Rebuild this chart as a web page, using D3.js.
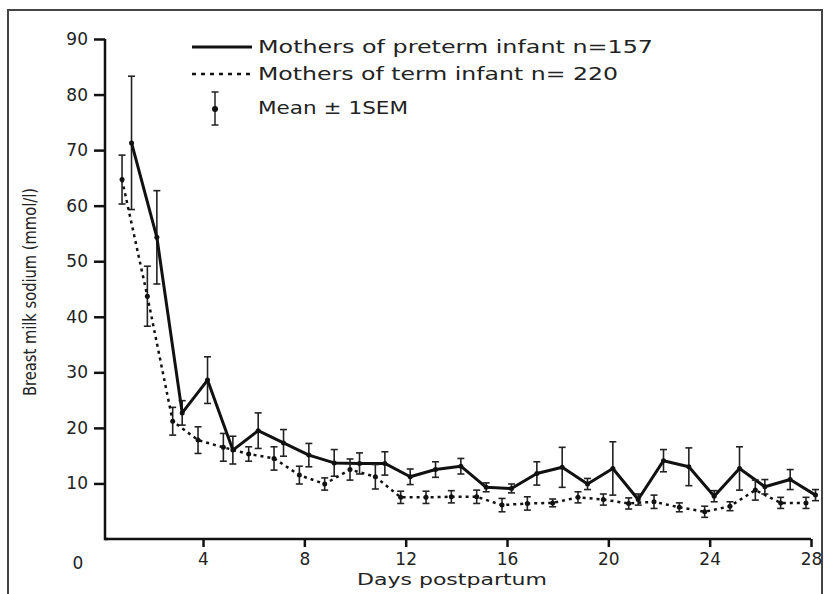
<!DOCTYPE html>
<html>
<head>
<meta charset="utf-8">
<script src="https://cdn.jsdelivr.net/npm/d3@7"></script>
<style>
  body { margin: 0; background: #fff; }
  text { font-family: "DejaVu Sans", sans-serif; fill: #222; }
</style>
</head>
<body>
<div id="chart-area"></div>
<script>
// data (sodium, mmol/l, mean and 1 SEM)
const days = [1,2,3,4,5,6,7,8,9,10,11,12,13,14,15,16,17,18,19,20,21,22,23,24,25,26,27,28];
const preterm = [71.3,54.3,22.7,28.6,16.0,19.5,17.3,15.1,13.7,13.6,13.6,11.2,12.5,13.1,9.3,9.1,11.8,12.9,9.9,12.7,7.1,14.1,13.0,7.7,12.7,9.4,10.7,7.9];
const pretermSem = [12,8.4,2.2,4.2,2.5,3.2,2.4,2.1,2.4,1.9,2.1,1.4,1.4,1.4,0.8,0.8,2.1,3.6,1.0,4.8,1.0,2.0,3.4,1.0,3.9,1.3,1.8,1.0];
const term = [64.7,43.7,21.2,17.8,16.5,15.3,14.5,11.5,9.9,12.5,11.2,7.5,7.5,7.6,7.6,6.1,6.4,6.5,7.5,7.1,6.4,6.7,5.7,4.9,5.9,8.8,6.5,6.5];
const termSem = [4.4,5.4,2.5,2.4,2.5,1.3,2.1,1.6,1.1,1.9,2.2,1.1,1.1,1.1,1.2,1.2,1.2,0.7,1.0,1.0,1.0,1.2,0.8,1.0,0.8,1.8,1.0,1.0];

const xTicks = [4,8,12,16,20,24,28];
const yTicks = [10,20,30,40,50,60,70,80,90];
const legendLabels = ["Mothers of preterm infant n=157", "Mothers of term infant n= 220", "Mean \u00b1 1SEM"];

const svgWidth = 829, svgHeight = 594;

var svg = d3.select("#chart-area")
    .append("svg")
    .attr("width", svgWidth)
    .attr("height", svgHeight);

// frame round the scanned figure
svg.append("path")
    .attr("d", "M8,600 V10 H822 V600")
    .attr("fill", "none")
    .attr("stroke", "#444")
    .attr("stroke-width", 2);

// scales
var xScale = d3.scaleLinear().domain([0, 28]).range([101.7, 811]);
var yScale = d3.scaleLinear().domain([0, 90]).range([539, 39]);

// axes
var yAxisCall = d3.axisLeft(yScale).tickValues(yTicks).tickSize(11).tickPadding(6).tickSizeOuter(0);
var xAxisCall = d3.axisBottom(xScale).tickValues(xTicks).tickSize(8).tickPadding(6).tickSizeOuter(0);

var yAxis = svg.append("g")
    .attr("transform", "translate(105,0)")
    .call(yAxisCall);
yAxis.select(".domain").attr("d", "M0," + yScale(90) + "V" + yScale(0) + "H3");

var xAxis = svg.append("g")
    .attr("transform", "translate(0," + yScale(0) + ")")
    .call(xAxisCall);
xAxis.select(".domain").attr("d", "M105,0H" + xScale(28));

svg.selectAll(".domain, .tick line")
    .attr("stroke", "#111")
    .attr("stroke-width", 2.5);
svg.selectAll(".tick text")
    .attr("font-size", "17px")
    .attr("font-family", "DejaVu Sans")
    .attr("fill", "#333");

// lone zero below the origin
svg.append("text")
    .attr("x", 78)
    .attr("y", 569)
    .attr("font-size", "17px")
    .attr("text-anchor", "middle")
    .attr("fill", "#333")
    .text("0");

// axis labels
svg.append("text")
    .attr("x", 452)
    .attr("y", 585)
    .attr("font-size", "15px")
    .attr("text-anchor", "middle")
    .attr("textLength", 190)
    .attr("lengthAdjust", "spacingAndGlyphs")
    .text("Days postpartum");

svg.append("text")
    .attr("transform", "translate(36,292) rotate(-90)")
    .attr("font-size", "17px")
    .attr("text-anchor", "middle")
    .attr("textLength", 208)
    .attr("lengthAdjust", "spacingAndGlyphs")
    .text("Breast milk sodium (mmol/l)");

// build series
var series = [
    {key: "preterm", values: preterm, sem: pretermSem, shift: 4.5, dash: null, width: 3},
    {key: "term", values: term, sem: termSem, shift: -5, dash: "3,4", width: 2.5}
];

series.forEach(function(s){
    var pts = days.map(function(d, i){
        return {x: xScale(d) + s.shift, v: s.values[i], e: s.sem[i]};
    });

    var g = svg.append("g").attr("class", s.key);

    // error bars
    var bars = g.selectAll(".err").data(pts).enter().append("g").attr("class", "err");
    bars.append("line")
        .attr("x1", function(p){ return p.x; })
        .attr("x2", function(p){ return p.x; })
        .attr("y1", function(p){ return yScale(p.v + p.e); })
        .attr("y2", function(p){ return yScale(p.v - p.e); });
    bars.append("line")
        .attr("x1", function(p){ return p.x - 3.5; })
        .attr("x2", function(p){ return p.x + 3.5; })
        .attr("y1", function(p){ return yScale(p.v + p.e); })
        .attr("y2", function(p){ return yScale(p.v + p.e); });
    bars.append("line")
        .attr("x1", function(p){ return p.x - 3.5; })
        .attr("x2", function(p){ return p.x + 3.5; })
        .attr("y1", function(p){ return yScale(p.v - p.e); })
        .attr("y2", function(p){ return yScale(p.v - p.e); });
    bars.selectAll("line")
        .attr("stroke", "#222")
        .attr("stroke-width", 1.6);

    // mean line
    var line = d3.line()
        .x(function(p){ return p.x; })
        .y(function(p){ return yScale(p.v); });
    g.append("path")
        .datum(pts)
        .attr("d", line)
        .attr("fill", "none")
        .attr("stroke", "#111")
        .attr("stroke-width", s.width)
        .attr("stroke-linejoin", "round")
        .attr("stroke-dasharray", s.dash);

    // dots at the means
    g.selectAll("circle").data(pts).enter().append("circle")
        .attr("cx", function(p){ return p.x; })
        .attr("cy", function(p){ return yScale(p.v); })
        .attr("r", 2.5)
        .attr("fill", "#111");
});

// legend
var legend = svg.append("g");
legend.append("line")
    .attr("x1", 192).attr("x2", 252)
    .attr("y1", 47).attr("y2", 47)
    .attr("stroke", "#111").attr("stroke-width", 3);
legend.append("line")
    .attr("x1", 192).attr("x2", 252)
    .attr("y1", 74).attr("y2", 74)
    .attr("stroke", "#111").attr("stroke-width", 2.5)
    .attr("stroke-dasharray", "4,5");
// error bar symbol
legend.append("line").attr("x1", 215).attr("x2", 215).attr("y1", 92).attr("y2", 125);
legend.append("line").attr("x1", 211.5).attr("x2", 218.5).attr("y1", 92).attr("y2", 92);
legend.append("line").attr("x1", 211.5).attr("x2", 218.5).attr("y1", 125).attr("y2", 125);
legend.selectAll("line:nth-child(n+3)").attr("stroke", "#222").attr("stroke-width", 1.5);
legend.append("circle").attr("cx", 215).attr("cy", 109).attr("r", 3).attr("fill", "#111");

var legendLengths = [395, 360, 150];
var legendY = [53, 80, 114];
legendLabels.forEach(function(label, i){
    legend.append("text")
        .attr("x", 258)
        .attr("y", legendY[i])
        .attr("font-size", "18px")
        .attr("textLength", legendLengths[i])
        .attr("lengthAdjust", "spacingAndGlyphs")
        .text(label);
});
</script>
</body>
</html>
